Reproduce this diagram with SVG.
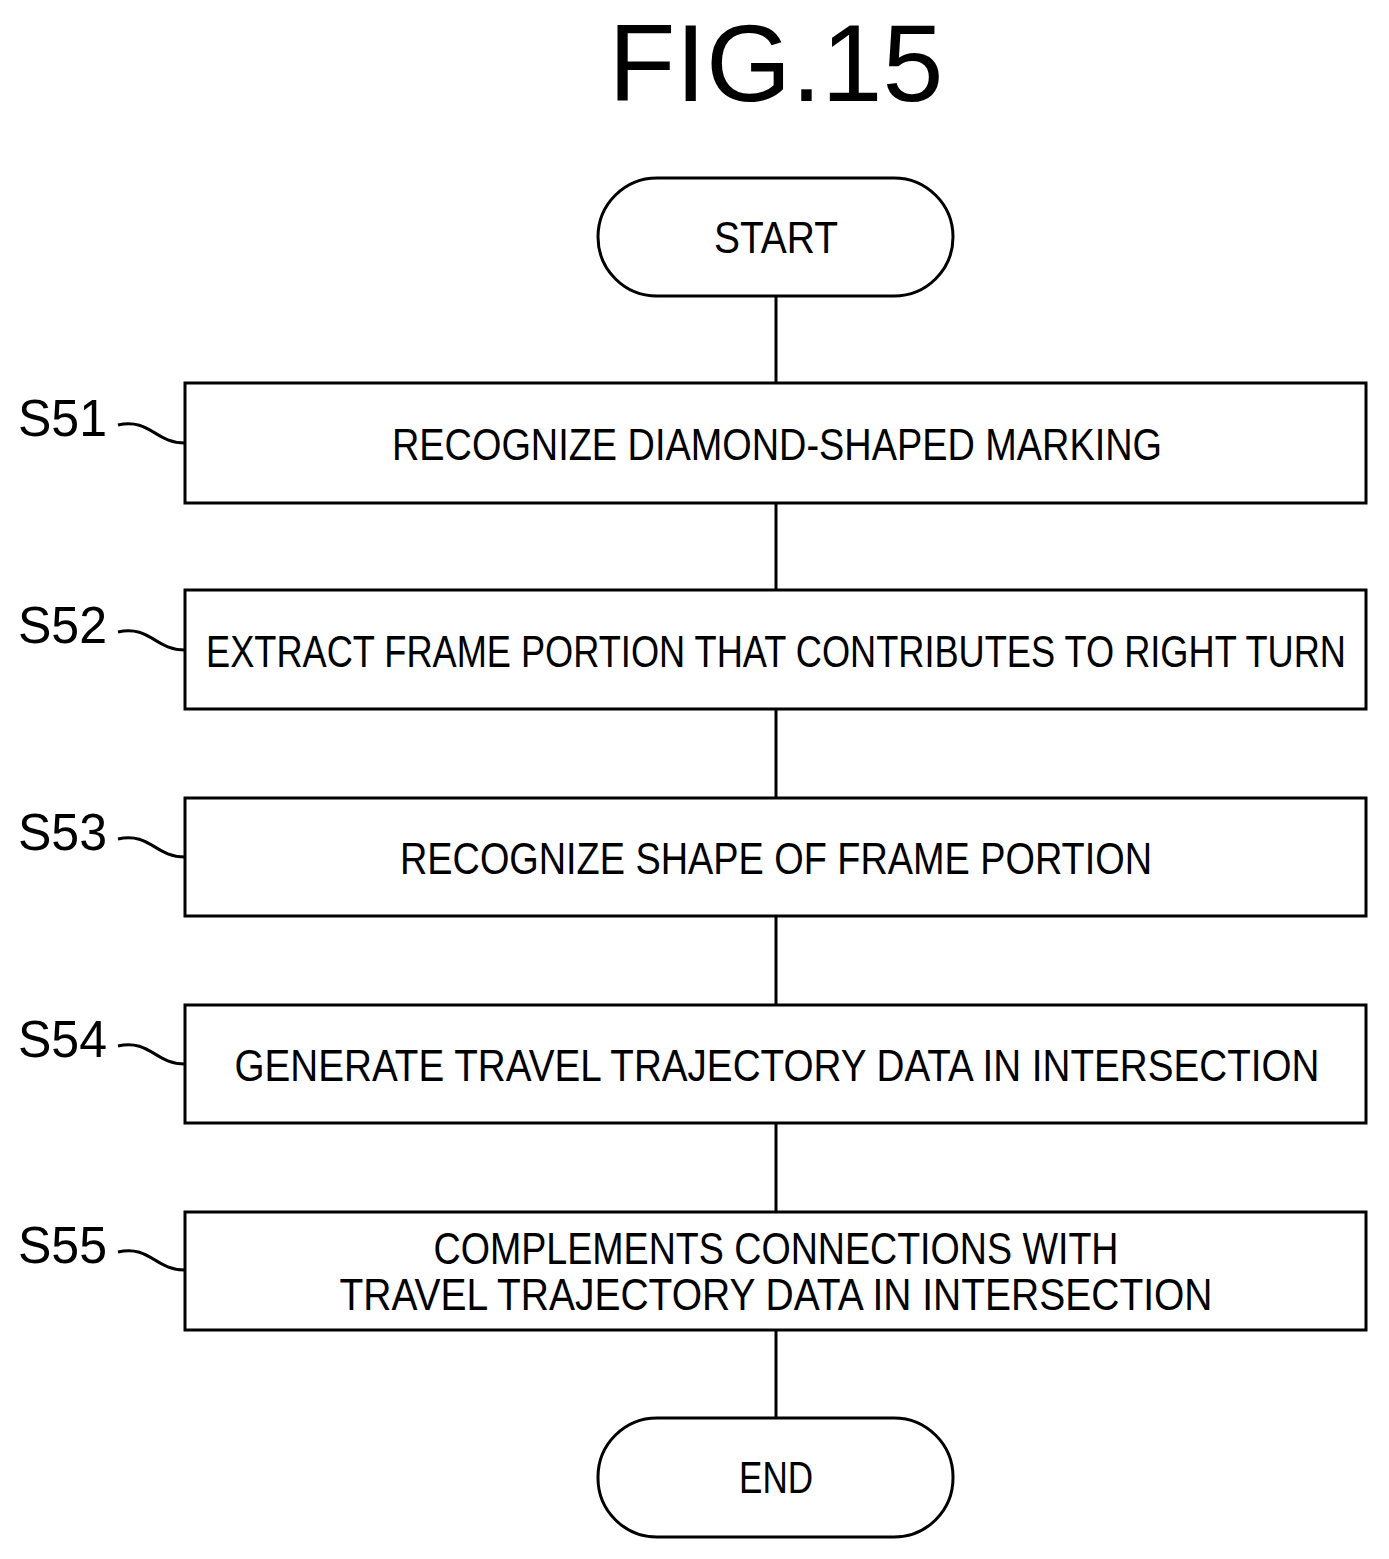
<svg xmlns="http://www.w3.org/2000/svg" width="1389" height="1559" viewBox="0 0 1389 1559">
<style>
.b{fill:#fff;stroke:#000;stroke-width:3}
.t{font-family:"Liberation Sans",Arial,sans-serif;font-size:44px;text-anchor:middle;fill:#000}
.l{font-family:"Liberation Sans",Arial,sans-serif;font-size:52px;fill:#000}
.c{fill:none;stroke:#000;stroke-width:3}
</style>
<rect width="1389" height="1559" fill="#fff"/>
<text x="776" y="101" style="font-family:'Liberation Sans',Arial,sans-serif;font-size:110px;text-anchor:middle" textLength="335" lengthAdjust="spacingAndGlyphs">FIG.15</text>
<g id="connectors">
<line class="c" x1="776" y1="296" x2="776" y2="383"/>
<line class="c" x1="776" y1="503" x2="776" y2="590"/>
<line class="c" x1="776" y1="709" x2="776" y2="798"/>
<line class="c" x1="776" y1="916" x2="776" y2="1005"/>
<line class="c" x1="776" y1="1123" x2="776" y2="1212"/>
<line class="c" x1="776" y1="1330" x2="776" y2="1418"/>
</g>
<g id="start"><rect class="b" x="598" y="178" width="355" height="118" rx="59"/><text class="t" x="776" y="253" textLength="124" lengthAdjust="spacingAndGlyphs">START</text></g>
<g id="s51"><rect class="b" x="185" y="383" width="1181" height="120"/><text class="t" x="777" y="460" textLength="770" lengthAdjust="spacingAndGlyphs">RECOGNIZE DIAMOND-SHAPED MARKING</text>
<text class="l" x="18" y="436" textLength="89" lengthAdjust="spacingAndGlyphs">S51</text><path class="c" d="M118,425 C150,418 155,443 185,443"/></g>
<g id="s52"><rect class="b" x="185" y="590" width="1181" height="119"/><text class="t" x="776" y="667" textLength="1140" lengthAdjust="spacingAndGlyphs">EXTRACT FRAME PORTION THAT CONTRIBUTES TO RIGHT TURN</text>
<text class="l" x="18" y="643" textLength="89" lengthAdjust="spacingAndGlyphs">S52</text><path class="c" d="M118,632 C150,625 155,650 185,650"/></g>
<g id="s53"><rect class="b" x="185" y="798" width="1181" height="118"/><text class="t" x="776" y="874" textLength="752" lengthAdjust="spacingAndGlyphs">RECOGNIZE SHAPE OF FRAME PORTION</text>
<text class="l" x="18" y="850" textLength="89" lengthAdjust="spacingAndGlyphs">S53</text><path class="c" d="M118,839 C150,832 155,857 185,857"/></g>
<g id="s54"><rect class="b" x="185" y="1005" width="1181" height="118"/><text class="t" x="777" y="1081" textLength="1085" lengthAdjust="spacingAndGlyphs">GENERATE TRAVEL TRAJECTORY DATA IN INTERSECTION</text>
<text class="l" x="18" y="1057" textLength="89" lengthAdjust="spacingAndGlyphs">S54</text><path class="c" d="M118,1046 C150,1039 155,1064 185,1064"/></g>
<g id="s55"><rect class="b" x="185" y="1212" width="1181" height="118"/><text class="t" x="776" y="1264" textLength="685" lengthAdjust="spacingAndGlyphs">COMPLEMENTS CONNECTIONS WITH</text><text class="t" x="776" y="1310" textLength="873" lengthAdjust="spacingAndGlyphs">TRAVEL TRAJECTORY DATA IN INTERSECTION</text>
<text class="l" x="18" y="1263" textLength="89" lengthAdjust="spacingAndGlyphs">S55</text><path class="c" d="M118,1252 C150,1245 155,1270 185,1270"/></g>
<g id="end"><rect class="b" x="598" y="1418" width="355" height="119" rx="59"/><text class="t" x="776" y="1493" textLength="74" lengthAdjust="spacingAndGlyphs">END</text></g>
</svg>
